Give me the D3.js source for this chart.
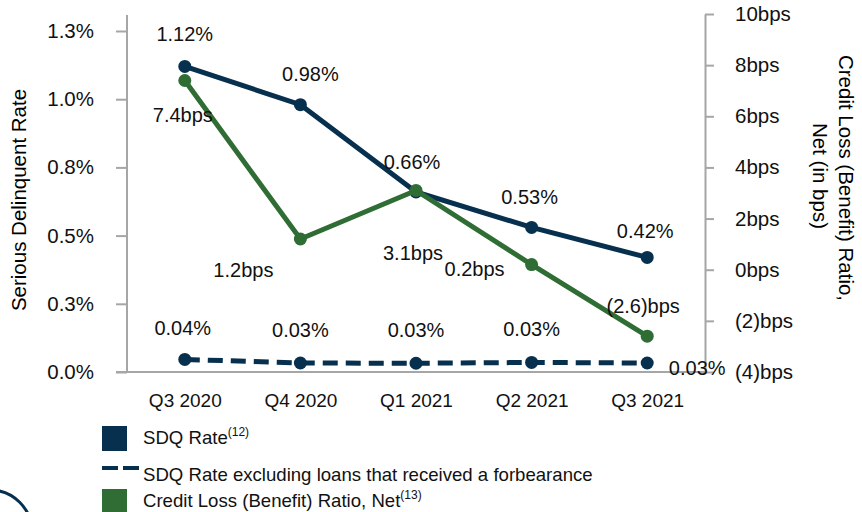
<!DOCTYPE html>
<html>
<head>
<meta charset="utf-8">
<script src="https://cdn.jsdelivr.net/npm/d3@7"></script>
<style>
body { margin: 0; background: #fff; }
svg { display: block; font-family: Arial, "Liberation Sans", sans-serif; }
.axis path, .axis line { stroke: #a6a6a6; stroke-width: 2px; }
.axis text { font-size: 20.5px; fill: #111; }
</style>
</head>
<body>
<svg width="862" height="512"></svg>
<script>

// data
var quarters = ["Q3 2020", "Q4 2020", "Q1 2021", "Q2 2021", "Q3 2021"];
var sdqRate = [1.12, 0.98, 0.66, 0.53, 0.42];
var sdqExForb = [0.046, 0.033, 0.032, 0.035, 0.033];
var sdqExForbLabels = ["0.04%", "0.03%", "0.03%", "0.03%", "0.03%"];
var creditLoss = [7.4, 1.2, 3.1, 0.2, -2.6];
var creditLossLabels = ["7.4bps", "1.2bps", "3.1bps", "0.2bps", "(2.6)bps"];
var leftTicks = [0, 0.25, 0.5, 0.75, 1.0, 1.25];
var rightTicks = [-4, -2, 0, 2, 4, 6, 8, 10];

// label offsets (layout)
var sdqOff = [[0, -25], [10, -24], [-4, -23], [-2, -23], [-2, -19]];
var clOff = [[-2, 42], [-57, 38], [-3, 70], [-57, 11], [-4, -23]];
var exOff = [[-2, -24], [0, -26], [0, -26], [0, -26], [50, 12]];

var navy = "#07304f", green = "#2f6d35";

var svg = d3.select("svg");
var plotL = 127, plotR = 705, plotT = 31, plotB = 372;

var x = d3.scalePoint().domain(quarters).range([plotL, plotR]).padding(0.5);
var yL = d3.scaleLinear().domain([0, 1.25]).range([plotB, plotT]);
var yR = d3.scaleLinear().domain([-4, 10]).range([plotB, 14]);

// axes
var gl = svg.append("g").attr("class", "axis").attr("transform", "translate(" + plotL + ",0)")
  .call(d3.axisLeft(yL).tickValues(leftTicks).tickSize(11).tickSizeOuter(0).tickPadding(22)
    .tickFormat(function(d) { return d3.format(".1f")(Math.round(d * 10 + 0.001) / 10) + "%"; }));
gl.select(".domain").attr("d", "M0,15V" + plotB);

var gr = svg.append("g").attr("class", "axis").attr("transform", "translate(" + plotR + ",0)")
  .call(d3.axisRight(yR).tickValues(rightTicks).tickSize(9).tickSizeOuter(0).tickPadding(21)
    .tickFormat(function(d) { return d < 0 ? "(" + (-d) + ")bps" : d + "bps"; }));

var gb = svg.append("g").attr("class", "axis").attr("transform", "translate(0," + plotB + ")")
  .call(d3.axisBottom(x).tickSize(0).tickPadding(22));
gb.select(".domain").attr("d", "M116,0H" + plotR);
gb.selectAll("text").style("font-size", "19px");

// axis titles
svg.append("text").attr("transform", "translate(26,200) rotate(-90)")
  .attr("text-anchor", "middle").style("font-size", "20.5px").text("Serious Delinquent Rate");
svg.append("text").attr("transform", "translate(839,178) rotate(90)")
  .attr("text-anchor", "middle").style("font-size", "20.5px").text("Credit Loss (Benefit) Ratio,");
svg.append("text").attr("transform", "translate(813,176) rotate(90)")
  .attr("text-anchor", "middle").style("font-size", "20.5px").text("Net (in bps)");

// series
function drawSeries(vals, scale, color, dash) {
  var line = d3.line().x(function(d, i) { return x(quarters[i]); }).y(function(d) { return scale(d); });
  svg.append("path").datum(vals).attr("d", line).attr("fill", "none")
    .attr("stroke", color).attr("stroke-width", 5).attr("stroke-dasharray", dash || null);
  svg.append("g").selectAll("circle").data(vals).enter().append("circle")
    .attr("cx", function(d, i) { return x(quarters[i]); })
    .attr("cy", function(d) { return scale(d); })
    .attr("r", 6.5).attr("fill", color);
}
drawSeries(sdqRate, yL, navy);
drawSeries(creditLoss, yR, green);
drawSeries(sdqExForb, yL, navy, "15,8");

function drawLabels(vals, scale, texts, offs) {
  svg.append("g").selectAll("text").data(vals).enter().append("text")
    .attr("x", function(d, i) { return x(quarters[i]) + offs[i][0]; })
    .attr("y", function(d, i) { return scale(d) + offs[i][1]; })
    .attr("text-anchor", "middle").style("font-size", "20px").attr("fill", "#111")
    .text(function(d, i) { return texts[i]; });
}
drawLabels(sdqRate, yL, sdqRate.map(function(v) { return v.toFixed(2) + "%"; }), sdqOff);
drawLabels(creditLoss, yR, creditLossLabels, clOff);
drawLabels(sdqExForb, yL, sdqExForbLabels, exOff);

// legend
var lg = svg.append("g").style("font-size", "18.6px").attr("fill", "#111");
lg.append("rect").attr("x", 102).attr("y", 426).attr("width", 25).attr("height", 25).attr("fill", navy);
var t1 = lg.append("text").attr("x", 143).attr("y", 444).text("SDQ Rate");
t1.append("tspan").attr("dy", -8).style("font-size", "12px").text("(12)");
lg.append("line").attr("x1", 102).attr("x2", 139).attr("y1", 468).attr("y2", 468)
  .attr("stroke", navy).attr("stroke-width", 4).attr("stroke-dasharray", "16,5");
lg.append("text").attr("x", 143).attr("y", 481).text("SDQ Rate excluding loans that received a forbearance");
lg.append("rect").attr("x", 102).attr("y", 489).attr("width", 25).attr("height", 25).attr("fill", green);
var t3 = lg.append("text").attr("x", 143).attr("y", 507).text("Credit Loss (Benefit) Ratio, Net");
t3.append("tspan").attr("dy", -8).style("font-size", "12px").text("(13)");

// logo fragment at bottom-left
svg.append("circle").attr("cx", -10).attr("cy", 532).attr("r", 42)
  .attr("fill", "none").attr("stroke", navy).attr("stroke-width", 3);

</script>
</body>
</html>
